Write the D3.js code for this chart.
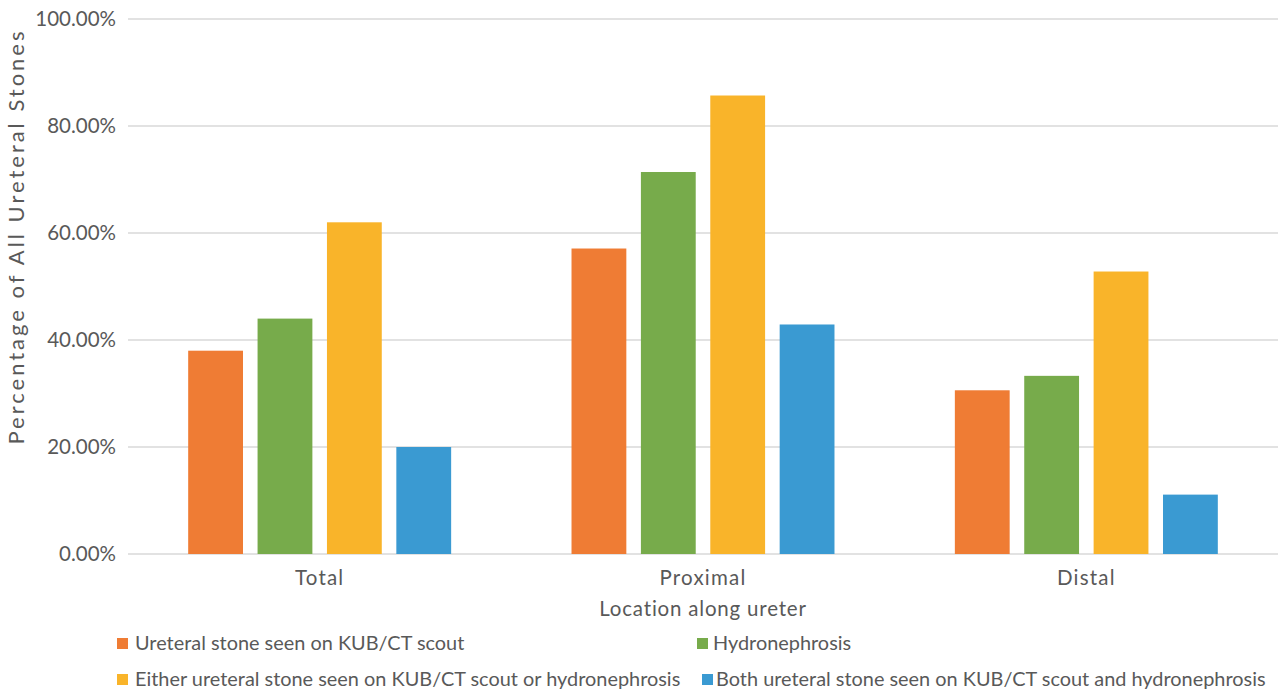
<!DOCTYPE html>
<html>
<head>
<meta charset="utf-8">
<script src="https://cdn.jsdelivr.net/npm/d3@7"></script>
<style>
  html, body { margin: 0; padding: 0; background: #fff; }
  svg { display: block; }
  text { font-family: Lato, "Open Sans", sans-serif; fill: #595959; }
</style>
</head>
<body>
<svg id="chart" width="1279" height="694"></svg>
<script>
// Share of ureteral stones detected, by location along the ureter
const locations = ["Total", "Proximal", "Distal"];
const seriesNames = [
  "Ureteral stone seen on KUB/CT scout",
  "Hydronephrosis",
  "Either ureteral stone seen on KUB/CT scout or hydronephrosis",
  "Both ureteral stone seen on KUB/CT scout and hydronephrosis"
];
const kubScout   = [38.0, 57.1, 30.6];
const hydro      = [44.0, 71.4, 33.3];
const eitherSign = [62.0, 85.7, 52.8];
const bothSigns  = [20.0, 42.9, 11.1];
const seriesValues = [kubScout, hydro, eitherSign, bothSigns];
const seriesColors = ["#EF7C34", "#77AB4B", "#F9B42A", "#3A9AD2"];
const yTicks = [0, 20, 40, 60, 80, 100];

const svg = d3.select("#chart");
const plot = { left: 128, right: 1278, top: 19, bottom: 554 };

const x0 = d3.scaleBand()
  .domain(locations)
  .range([plot.left, plot.right])
  .paddingInner(0.314)
  .paddingOuter(0.157);

const x1 = d3.scaleBand()
  .domain(d3.range(seriesNames.length))
  .range([0, x0.bandwidth()])
  .paddingInner(0.21)
  .paddingOuter(0);

const y = d3.scaleLinear().domain([0, 100]).range([plot.bottom, plot.top]);

// horizontal gridlines
svg.append("g")
  .selectAll("line")
  .data(yTicks)
  .join("line")
  .attr("x1", plot.left)
  .attr("x2", plot.right)
  .attr("y1", d => y(d))
  .attr("y2", d => y(d))
  .attr("stroke", "#d9d9d9")
  .attr("stroke-width", 1.5);

// y tick labels
svg.append("g")
  .selectAll("text")
  .data(yTicks)
  .join("text")
  .attr("x", 116)
  .attr("y", d => y(d))
  .attr("dy", "0.36em")
  .attr("text-anchor", "end")
  .attr("font-size", 20.5)
  .text(d => d.toFixed(2) + "%");

// bars
const rows = locations.map((loc, i) => ({
  loc,
  vals: seriesValues.map((s, k) => ({ k, v: s[i] }))
}));

svg.append("g")
  .selectAll("g")
  .data(rows)
  .join("g")
  .attr("transform", d => `translate(${x0(d.loc)},0)`)
  .selectAll("rect")
  .data(d => d.vals)
  .join("rect")
  .attr("x", d => x1(d.k))
  .attr("width", x1.bandwidth())
  .attr("y", d => y(d.v))
  .attr("height", d => y(0) - y(d.v))
  .attr("fill", d => seriesColors[d.k]);

// category labels
svg.append("g")
  .selectAll("text")
  .data(locations)
  .join("text")
  .attr("x", d => x0(d) + x0.bandwidth() / 2)
  .attr("y", 585)
  .attr("text-anchor", "middle")
  .attr("font-size", 20.5)
  .attr("letter-spacing", 1.2)
  .text(d => d);

// axis titles
svg.append("text")
  .attr("x", (plot.left + plot.right) / 2)
  .attr("y", 616)
  .attr("text-anchor", "middle")
  .attr("font-size", 20.5)
  .attr("letter-spacing", 0.8)
  .text("Location along ureter");

svg.append("text")
  .attr("transform", "translate(24,238) rotate(-90)")
  .attr("text-anchor", "middle")
  .attr("font-size", 22)
  .attr("textLength", 413)
  .attr("lengthAdjust", "spacing")
  .text("Percentage of All Ureteral Stones");

// legend
const legendItems = [
  { k: 0, x: 117, y: 650, gap: 18 },
  { k: 1, x: 697, y: 650, gap: 16 },
  { k: 2, x: 117, y: 686, gap: 18 },
  { k: 3, x: 702, y: 686, gap: 14 }
];
const lg = svg.append("g")
  .selectAll("g")
  .data(legendItems)
  .join("g")
  .attr("transform", d => `translate(${d.x},${d.y})`);
lg.append("rect")
  .attr("x", 0)
  .attr("y", -12)
  .attr("width", 11)
  .attr("height", 11)
  .attr("fill", d => seriesColors[d.k]);
lg.append("text")
  .attr("x", d => d.gap)
  .attr("y", 0)
  .attr("font-size", 19.9)
  .text(d => seriesNames[d.k]);
</script>
</body>
</html>
